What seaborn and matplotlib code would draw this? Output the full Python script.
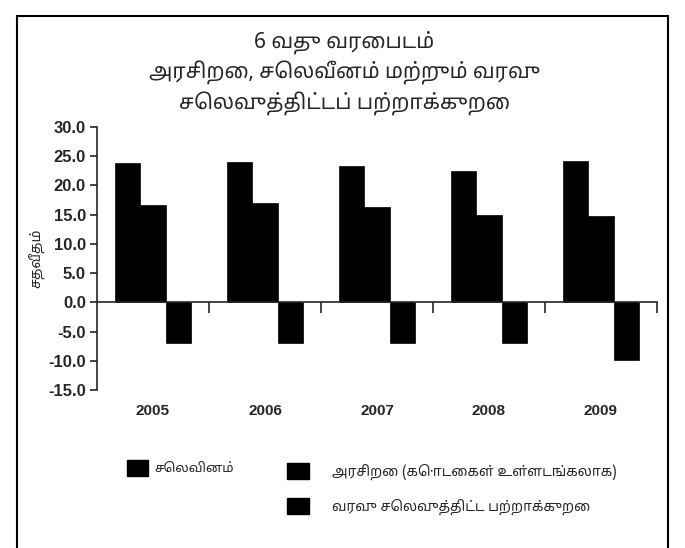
import matplotlib
matplotlib.use("Agg")
import matplotlib.pyplot as plt
import matplotlib.patches as mpatches
import seaborn as sns
import pandas as pd
from matplotlib import font_manager

years = ["2005", "2006", "2007", "2008", "2009"]
expenditure = [23.8, 24.1, 23.3, 22.5, 24.2]
revenue = [16.6, 17.0, 16.4, 15.0, 14.7]
deficit = [-6.9, -7.0, -6.9, -7.0, -9.9]

series_names = ["செலவினம்", "அரசிறை (கொடைகள் உள்ளடங்கலாக)", "வரவு செலவுத்திட்ட பற்றாக்குறை"]
title_lines = ["6 வது வரைபடம்", "அரசிறை, செலவீனம் மற்றும் வரவு", "செலவுத்திட்டப் பற்றாக்குறை"]
y_label = "சதவீதம்"
y_ticks = [-15, -10, -5, 0, 5, 10, 15, 20, 25, 30]

sns.set_style("white")
installed = {f.name for f in font_manager.fontManager.ttflist}
families = [f for f in ["Noto Sans Tamil", "Lohit Tamil", "Latha", "Noto Sans", "Liberation Sans", "DejaVu Sans"] if f in installed]
plt.rcParams["font.family"] = families

df = pd.DataFrame({
    "year": years * 3,
    "series": [series_names[0]] * 5 + [series_names[1]] * 5 + [series_names[2]] * 5,
    "value": expenditure + revenue + deficit,
})

fig = plt.figure(figsize=(6.85, 5.48), dpi=100)
ax = fig.add_axes([0.1416, 0.2883, 0.8175, 0.4799])

sns.barplot(data=df, x="year", y="value", hue="series", palette=["black"] * 3,
            width=0.68, edgecolor="black", linewidth=0.5, legend=False, ax=ax)

ax.set_xlim(-0.5, 4.5)
ax.set_ylim(-15, 30)
ax.set_yticks(y_ticks)
ax.set_yticklabels([f"{v:.1f}" for v in y_ticks], fontsize=12, fontweight="bold",
                   family=["Liberation Sans", "DejaVu Sans"])
ax.tick_params(axis="y", direction="out", length=5, width=1.2, left=True, pad=3)

for side in ["top", "right"]:
    ax.spines[side].set_visible(False)
ax.spines["left"].set_linewidth(1.2)
ax.spines["bottom"].set_position(("data", 0))
ax.spines["bottom"].set_linewidth(1.2)

ax.set_xticks(range(len(years)))
ax.set_xticklabels(years, fontsize=11, fontweight="bold", family=["Liberation Sans", "DejaVu Sans"])
ax.tick_params(axis="x", which="major", length=0, pad=73)
ax.set_xticks([0.5, 1.5, 2.5, 3.5, 4.5], minor=True)
ax.tick_params(axis="x", which="minor", direction="out", length=8, width=1.2, bottom=True)
ax.set_xlabel("")
ax.set_ylabel(y_label, fontsize=10, style="italic", labelpad=2)

for i, line in enumerate(title_lines):
    fig.text(0.503, 0.923 - i * 0.056, line, ha="center", va="center",
             fontsize=15, fontweight="bold")

handle = lambda: mpatches.Rectangle((0, 0), 1, 1, facecolor="black", edgecolor="black")
fig.legend([handle()], [series_names[0]], loc="center left", bbox_to_anchor=(0.168, 0.146),
           frameon=False, fontsize=9.5, handlelength=1.6, handleheight=1.4, handletextpad=0.5)
fig.legend([handle(), handle()], series_names[1:], loc="upper left", bbox_to_anchor=(0.401, 0.178),
           frameon=False, fontsize=10, handlelength=1.6, handleheight=1.4, handletextpad=1.6,
           labelspacing=1.3)

fig.patches.append(mpatches.Rectangle((0.025, -0.01), 0.95, 0.98, transform=fig.transFigure,
                                      fill=False, edgecolor="black", linewidth=1.5))

fig.savefig("out.png", dpi=100)
